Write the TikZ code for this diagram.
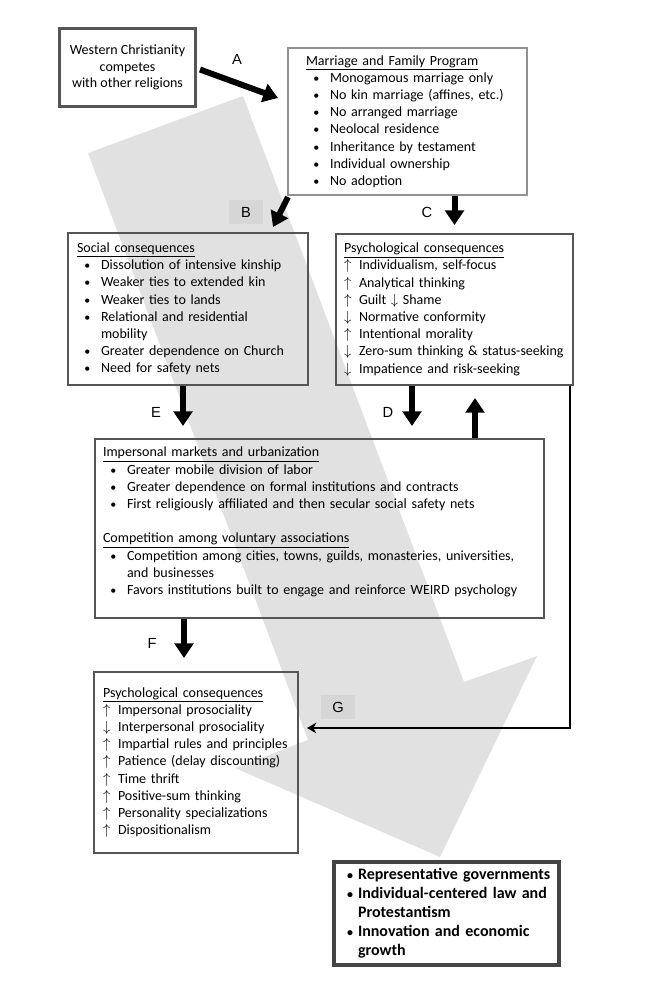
\documentclass[tikz,border=0pt]{standalone}
\usepackage{fontspec}
\setmainfont{Carlito}
\newfontfamily\tagfont{Liberation Sans}
\usetikzlibrary{arrows.meta,positioning}
\definecolor{bigshade}{RGB}{225,225,225}
\definecolor{tagshade}{RGB}{214,214,214}
\definecolor{darkedge}{RGB}{85,85,85}
\definecolor{paleedge}{RGB}{145,145,145}
\newcommand{\bdot}{{\fontsize{9}{9}\selectfont\textbullet}}
\newcommand{\itm}[1]{\hspace*{5.5pt}\makebox[12.5pt][l]{\bdot}\mbox{#1}}
\newcommand{\more}[1]{\hspace*{18pt}\mbox{#1}}
\newcommand{\upl}[1]{\makebox[11.25pt][l]{$\uparrow$}\mbox{#1}}
\newcommand{\dnl}[1]{\makebox[11.25pt][l]{$\downarrow$}\mbox{#1}}
\newcommand{\bitm}[1]{\makebox[8.25pt][l]{\bdot}\mbox{#1}}
\newcommand{\bmore}[1]{\hspace*{8.25pt}\mbox{#1}}
\tikzset{
  panel/.style={draw=darkedge,line width=1.5pt,anchor=north west,align=left,inner ysep=0pt,font=\fontsize{10.5}{12.9}\selectfont},
  startbox/.style={draw=darkedge,line width=2.25pt,anchor=north west,align=center,font=\fontsize{10.5}{12.5}\selectfont},
  endbox/.style={draw=darkedge!80!black,line width=3pt,anchor=north west,align=left,inner ysep=0pt,font=\bfseries\fontsize{12}{14.3}\selectfont},
  tag/.style={font=\tagfont\fontsize{11}{13}\selectfont,inner sep=0pt},
  tagbox/.style={tag,fill=tagshade,minimum width=25.5pt,minimum height=17.5pt},
  fatarrow/.style={-{Triangle[length=11pt,width=14pt]},line width=4.5pt},
  backarrow/.style={-{Stealth[length=7pt,width=8pt]},line width=2pt},
}
\begin{document}
\begin{tikzpicture}[x=0.75pt,y=-0.75pt]
  \useasboundingbox (0,0) rectangle (652,997);
  % big grey arrow behind everything
  \fill[bigshade] (243,96) -- (88,153) -- (308,740) -- (235,768) -- (440,857) -- (537,656) -- (464,682) -- cycle;

  \node[startbox,minimum width=102pt,minimum height=58.5pt] (west) at (58,27) {Western Christianity\\competes\\with other religions};
  \node[panel,draw=paleedge,inner xsep=13.5pt,text width=152.25pt,minimum height=110.25pt] (marriage) at (287,47) {\underline{Marriage and Family Program}\\
    \itm{Monogamous marriage only}\\
    \itm{No kin marriage (affines, etc.)}\\
    \itm{No arranged marriage}\\
    \itm{Neolocal residence}\\
    \itm{Inheritance by testament}\\
    \itm{Individual ownership}\\
    \itm{No adoption}};
  \node[panel,inner xsep=6.75pt,text width=166.5pt,minimum height=114pt] (social) at (67,232) {\underline{Social consequences}\\
    \itm{Dissolution of intensive kinship}\\
    \itm{Weaker ties to extended kin}\\
    \itm{Weaker ties to lands}\\
    \itm{Relational and residential}\\
    \more{mobility}\\
    \itm{Greater dependence on Church}\\
    \itm{Need for safety nets}};
  \node[panel,inner xsep=6pt,text width=165.75pt,minimum height=113.25pt] (psych) at (335,233) {\underline{Psychological consequences}\\
    \upl{Individualism, self-focus}\\
    \upl{Analytical thinking}\\
    \upl{Guilt $\downarrow$ Shame}\\
    \dnl{Normative conformity}\\
    \upl{Intentional morality}\\
    \dnl{Zero-sum thinking \& status-seeking}\\
    \dnl{Impatience and risk-seeking}};
  \node[panel,inner xsep=6pt,text width=324.75pt,minimum height=134.25pt] (imp) at (94,438) {\underline{Impersonal markets and urbanization}\\
    \itm{Greater mobile division of labor}\\
    \itm{Greater dependence on formal institutions and contracts}\\
    \itm{First religiously affiliated and then secular social safety nets}\\[12.9pt]
    \underline{Competition among voluntary associations}\\
    \itm{Competition among cities, towns, guilds, monasteries, universities,}\\
    \more{and businesses}\\
    \itm{Favors institutions built to engage and reinforce WEIRD psychology}\\[-1.5pt]
    \mbox{}};
  \node[panel,inner xsep=6.75pt,text width=139.5pt,minimum height=135.75pt] (psych2) at (93,671) {\underline{Psychological consequences}\\
    \upl{Impersonal prosociality}\\
    \dnl{Interpersonal prosociality}\\
    \upl{Impartial rules and principles}\\
    \upl{Patience (delay discounting)}\\
    \upl{Time thrift}\\
    \upl{Positive-sum thinking}\\
    \upl{Personality specializations}\\
    \upl{Dispositionalism}};
  \node[endbox,inner xsep=9.75pt,text width=149.25pt,minimum height=77.25pt] (result) at (332,860) {\bitm{Representative governments}\\
    \bitm{Individual-centered law and}\\
    \bmore{Protestantism}\\
    \bitm{Innovation and economic}\\
    \bmore{growth}};

  % letters on the links
  \node[tag] (labA) at (237,59) {A};
  \node[tagbox] (labB) at (246,212) {B};
  \node[tag] (labC) at (427,212) {C};
  \node[tag] (labD) at (388,412) {D};
  \node[tag] (labE) at (156,412) {E};
  \node[tag] (labF) at (152,643) {F};
  \node[tagbox] (labG) at (338,707) {G};

  \draw[fatarrow] ([shift={(3,2)}]west.east) -- ([shift={(-9,51)}]marriage.north west);
  \draw[fatarrow] ([shift={(1,1)}]marriage.south west) -- ([shift={(-36,-5)}]social.north east);
  \draw[fatarrow] (marriage.south -| psych.north) -- ([yshift=6pt]psych.north);
  \draw[fatarrow] ([shift={(116,0)}]social.south west) -- ([shift={(89,-12)}]imp.north west);
  \draw[fatarrow] ([shift={(77,0)}]psych.south west) -- ([shift={(318,-12)}]imp.north west);
  \draw[fatarrow] ([shift={(381,0)}]imp.north west) -- ([shift={(140,12)}]psych.south west);
  \draw[fatarrow] ([shift={(90,0)}]imp.south west) -- ([shift={(91,-13)}]psych2.north west);
  \draw[backarrow] ([xshift=-3pt]psych.south east) |- ([shift={(8,-34.5)}]psych2.east);
\end{tikzpicture}
\end{document}
